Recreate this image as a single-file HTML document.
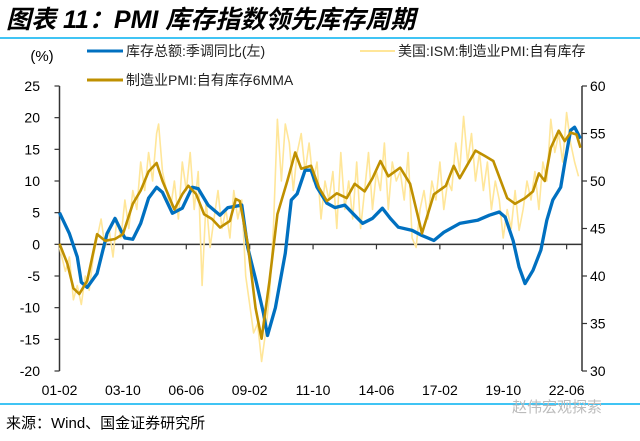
<!DOCTYPE html>
<html><head><meta charset="utf-8"><style>
body{margin:0;background:#fff;}
svg text{font-family:"Liberation Sans","Noto Sans CJK SC",sans-serif;}
</style></head><body>
<svg id="chart" width="640" height="436" viewBox="0 0 640 436" xmlns="http://www.w3.org/2000/svg">
<text x="6" y="28" font-size="25" font-weight="bold" font-style="italic" fill="#000">图表 11：PMI 库存指数领先库存周期</text>
<line x1="0" y1="38" x2="640" y2="38" stroke="#00B0F0" stroke-width="1.5"/>
<text x="42" y="61" font-size="15" text-anchor="middle">(%)</text>
<g>
<line x1="87" y1="51" x2="123" y2="51" stroke="#0070C0" stroke-width="3"/>
<text x="126" y="56" font-size="14" fill="#222">库存总额:季调同比(左)</text>
<line x1="360" y1="51" x2="395" y2="51" stroke="#FFE699" stroke-width="2"/>
<text x="398" y="56" font-size="14" fill="#222">美国:ISM:制造业PMI:自有库存</text>
<line x1="87" y1="80" x2="123" y2="80" stroke="#BF9000" stroke-width="3"/>
<text x="126" y="85" font-size="14" fill="#222">制造业PMI:自有库存6MMA</text>
</g>
<g id="axes"></g>
<g id="series"></g>
<line x1="0" y1="404" x2="640" y2="404" stroke="#00B0F0" stroke-width="1.5"/>
<text x="6" y="428" font-size="15" fill="#000">来源：Wind、国金证券研究所</text>
<text x="512" y="412" font-size="15" fill="#bbb">赵伟宏观探索</text>
</svg>
<script>
// months since 2001-02
const blueMonths=[0,5,9,11,14,19,24,28,31,33,37,41,45,49,52,57,62,67,70,75,81,85,92,95,99,103,105,109,114,117,120,124,127,130,135,139,144,148,153,158,163,167,171,178,183,189,194,202,211,217,222,225,229,232,235,239,243,246,249,253,255,258,260,263];
const blueValues=[5.0,1.7,-2,-6,-6.8,-4.6,1.7,4.1,2.2,1,0.8,3.3,7.3,9,8.2,4.9,5.7,9,8.8,6.2,4.6,5.8,6.2,-0.5,-5.5,-10.9,-14.4,-10,-1.4,7,8,11.7,11.7,9,6.5,5.8,6.2,4.9,3.3,4.1,5.7,4.1,2.7,2.2,1.4,0.6,1.9,3.3,3.8,4.6,5.1,4.3,0.6,-3.6,-6.2,-4.1,-0.9,3.8,7,9,12.8,18,18.5,16.7];
const goldMonths=[0,4,7,10,14,19,23,28,32,37,41,45,49,52,58,62,65,69,73,77,81,86,89,91,95,99,102,106,110,115,119,122,127,131,135,140,145,149,154,158,162,166,172,177,183,189,195,199,202,210,215,219,226,230,235,239,242,245,248,252,255,258,261,263];
const goldValues=[43.4,41.3,38.7,38.1,39.5,44.4,43.7,43.9,44.4,47.6,49,51,51.9,50,47,48.6,49.5,48.6,46.5,46,45.1,45.8,48.1,47.9,43.4,36.6,33.4,39.5,46.5,50,53,51.3,51.6,49.3,47.9,48.7,48.2,49.7,48.9,50.3,52.1,50.5,51.4,49.7,44.5,48.6,49.5,51.6,50.3,53.2,52.6,52.1,48.2,47.6,48.2,48.9,50.8,50,53.5,55.3,54.2,55.1,54.9,53.5];
const ismMonths=[0,3,5,7,9,11,13,15,17,19,21,23,25,27,29,31,33,35,37,39,41,43,45,47,49,50,52,54,56,58,60,62,64,66,68,70,72,74,76,78,80,82,84,86,88,90,92,94,96,98,100,102,104,106,108,110,112,114,116,118,120,122,124,126,128,130,132,134,136,138,140,142,144,146,148,150,152,154,156,158,160,162,164,166,168,170,172,174,176,178,180,182,184,186,188,190,192,194,196,198,200,202,204,206,208,210,212,214,216,218,220,222,224,226,228,230,232,234,236,238,240,242,244,246,248,250,252,254,256,258,260,262,263];
const ismValues=[43,40.5,42,37.5,39,37,40,38.5,42,44,46,43,45,42,46,44,48,45,49,47,52,49,53,50,55,56,51,49,47,50,46,52,49,53,47,51,39,48,43,46,49,45,47,44,49,46,48,40,37,34,35,31,34,38,45,56.5,50,56,54,49,53,55,51,54,50,52,46,50,48,51,45,53,47,50,46,52,45,49,53,47,51,49,54,47,52,50,51,48,53,44,43,47,49,46,50,48,52,47,50,49,54,51,56.8,52,55,50,53,49,52,47,50,48,44,47,45,49,44.8,47,50,48,51,47,52,50,56.5,53,55,52,57.2,54,52,50.5];

const X0=59.5, PXM=1.981;
const LT=86, LB=371, LMIN=-20, LMAX=25;
const RMIN=30, RMAX=60;
const xS=m=>X0+m*PXM;
const yL=v=>LB-(v-LMIN)/(LMAX-LMIN)*(LB-LT);
const yR=v=>LB-(v-RMIN)/(RMAX-RMIN)*(LB-LT);
const leftTicks=[25,20,15,10,5,0,-5,-10,-15,-20];
const rightTicks=[60,55,50,45,40,35,30];
const xTickLabels=["01-02","03-10","06-06","09-02","11-10","14-06","17-02","19-10","22-06"];
const xTickMonths=[0,32,64,96,128,160,192,224,256];
const NS="http://www.w3.org/2000/svg";
const axes=document.getElementById('axes'), series=document.getElementById('series');
function mk(tag,attrs,parent){const e=document.createElementNS(NS,tag);for(const k in attrs)e.setAttribute(k,attrs[k]);parent.appendChild(e);return e;}
const XR=582;
let e=mk('line',{x1:X0,y1:LT,x2:X0,y2:LB,stroke:'#333','stroke-width':1.5},axes);


e=mk('line',{x1:XR,y1:LT,x2:XR,y2:LB,stroke:'#333','stroke-width':1.5},axes);


leftTicks.forEach(v=>{
 const t=mk('line',{x1:X0-5,y1:yL(v),x2:X0,y2:yL(v),stroke:'#333','stroke-width':1.2},axes);
 
 
 const l=mk('text',{x:40,y:yL(v)+5,'font-size':14,'text-anchor':'end'},axes);
 l.textContent=v;
 
 
});
rightTicks.forEach(v=>{
 const t=mk('line',{x1:XR,y1:yR(v),x2:XR+5,y2:yR(v),stroke:'#333','stroke-width':1.2},axes);
 
 
 const l=mk('text',{x:590,y:yR(v)+5,'font-size':14},axes);
 l.textContent=v;
 
 
});
e=mk('line',{x1:X0,y1:yL(0),x2:XR,y2:yL(0),stroke:'#333','stroke-width':1.5},axes);


xTickMonths.forEach((m,i)=>{
 const t=mk('line',{x1:xS(m),y1:yL(0),x2:xS(m),y2:yL(0)+5,stroke:'#333','stroke-width':1.2},axes);
 
 
 const l=mk('text',{x:xS(m),y:395,'font-size':14,'text-anchor':'middle'},axes);
 l.textContent=xTickLabels[i];
 
 
});
function pts(ms,vs,yf){return ms.map((m,i)=>xS(m).toFixed(1)+','+yf(vs[i]).toFixed(1)).join(' ');}
e=mk('polyline',{points:pts(ismMonths,ismValues,yR),fill:'none',stroke:'#FFE699','stroke-width':1.6,'stroke-linejoin':'round'},series);


e=mk('polyline',{points:pts(blueMonths,blueValues,yL),fill:'none',stroke:'#0070C0','stroke-width':3.3,'stroke-linejoin':'round'},series);


e=mk('polyline',{points:pts(goldMonths,goldValues,yR),fill:'none',stroke:'#BF9000','stroke-width':2.6,'stroke-linejoin':'round'},series);


</script>
</body></html>
